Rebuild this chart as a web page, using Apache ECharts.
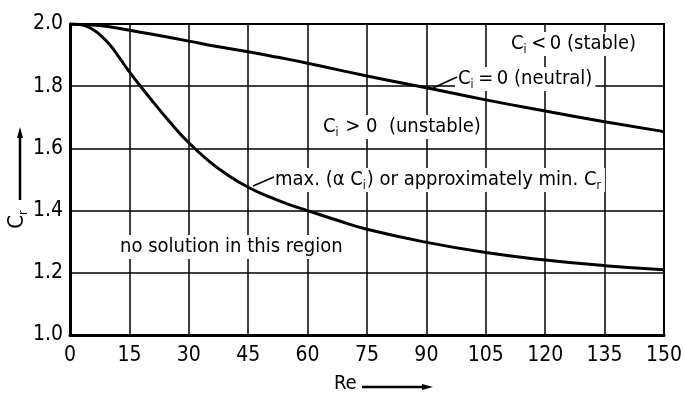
<!DOCTYPE html>
<html>
<head>
<meta charset="utf-8">
<script src="https://cdn.jsdelivr.net/npm/echarts@6/dist/echarts.min.js"></script>
<style>
  html, body { margin: 0; padding: 0; background: #fff; }
  #chart { width: 685px; height: 394px; }
</style>
</head>
<body>
<div id="chart"></div>
<script>
// Neutral stability curve (c_i = 0): Reynolds number and c_r
var neutralRe = [0, 7.5, 15, 22.5, 30, 37.5, 45, 52.5, 60, 75, 90, 105, 120, 135, 150];
var neutralCr = [2.0, 1.995, 1.980, 1.963, 1.945, 1.927, 1.911, 1.893, 1.874, 1.833, 1.795, 1.756, 1.720, 1.686, 1.654];
// Curve of maximum amplification (approximately minimum c_r)
var maxAmpRe = [0, 2.5, 5, 7.5, 10, 12.5, 15, 20, 25, 30, 35, 40, 45, 50, 55, 60, 67.5, 75, 90, 105, 120, 135, 150];
var maxAmpCr = [2.0, 1.998, 1.988, 1.966, 1.934, 1.891, 1.846, 1.765, 1.688, 1.618, 1.560, 1.513, 1.475, 1.446, 1.421, 1.400, 1.369, 1.340, 1.298, 1.265, 1.241, 1.223, 1.210];
// Axis ticks
var xTicks = [0, 15, 30, 45, 60, 75, 90, 105, 120, 135, 150];
var yTicks = ['1.0', '1.2', '1.4', '1.6', '1.8', '2.0'];

var FONT = '"DejaVu Sans Condensed", "Liberation Sans Narrow", sans-serif';

function pairs(xs, ys) {
  return xs.map(function (x, i) { return [x, ys[i]]; });
}

var subRich = {
  t: { fontFamily: FONT, fontSize: 20, color: '#000', lineHeight: 24, verticalAlign: 'middle' },
  s: { fontFamily: FONT, fontSize: 12, color: '#000', lineHeight: 12, verticalAlign: 'bottom', padding: [0, 1, 0, 0] }
};
var bigRich = {
  t: { fontFamily: FONT, fontSize: 22, color: '#000', lineHeight: 26, verticalAlign: 'middle' },
  s: { fontFamily: FONT, fontSize: 13, color: '#000', lineHeight: 13, verticalAlign: 'bottom', padding: [0, 1, 0, 0] }
};

function label(text, x, y) {
  return {
    type: 'text', x: x, y: y, z: 100,
    style: {
      text: text, rich: subRich, fontFamily: FONT, fontSize: 20, fill: '#000',
      backgroundColor: '#fff', padding: [0, 3, 0, 3],
      textVerticalAlign: 'middle'
    }
  };
}

function arrow(x1, y1, x2, y2) {
  var dx = x2 - x1, dy = y2 - y1, len = Math.sqrt(dx * dx + dy * dy);
  var ux = dx / len, uy = dy / len, L = 11, W = 3;
  var bx = x2 - ux * L, by = y2 - uy * L;
  return [
    { type: 'line', z: 100, shape: { x1: x1, y1: y1, x2: bx, y2: by }, style: { stroke: '#000', lineWidth: 2.5 } },
    { type: 'polygon', z: 100, shape: { points: [[x2, y2], [bx - uy * W, by + ux * W], [bx + uy * W, by - ux * W]] }, style: { fill: '#000' } }
  ];
}

var chart = echarts.init(document.getElementById('chart'), null, { renderer: 'canvas' });

var lineStyle = { color: '#000', width: 3 };

var option = {
  animation: false,
  backgroundColor: '#fff',
  grid: { left: 70, right: 17, top: 24, bottom: 59, show: true, borderColor: '#000', borderWidth: 2, backgroundColor: 'transparent' },
  xAxis: {
    type: 'value', min: 0, max: 150, interval: 15,
    axisLine: { show: true, lineStyle: { color: '#000', width: 3 } },
    axisTick: { show: false },
    axisLabel: { color: '#000', fontFamily: FONT, fontSize: 21, margin: 10,
      formatter: function (v) { return xTicks.indexOf(v) >= 0 ? String(v) : ''; } },
    splitLine: { show: true, lineStyle: { color: '#000', width: 1.5 } }
  },
  yAxis: {
    type: 'value', min: 1.0, max: 2.0, interval: 0.2,
    axisLine: { show: true, lineStyle: { color: '#000', width: 3 } },
    axisTick: { show: false },
    axisLabel: { color: '#000', fontFamily: FONT, fontSize: 21, margin: 7,
      formatter: function (v) { return yTicks[Math.round((v - 1.0) / 0.2)]; } },
    splitLine: { show: true, lineStyle: { color: '#000', width: 1.5 } }
  },
  series: [
    { type: 'line', name: 'neutral', data: pairs(neutralRe, neutralCr), smooth: 0.5, showSymbol: false, lineStyle: lineStyle, z: 5 },
    { type: 'line', name: 'max', data: pairs(maxAmpRe, maxAmpCr), smooth: 0.5, showSymbol: false, lineStyle: lineStyle, z: 5 }
  ],
  graphic: [
    label('{t|C}{s|i}{t|\u2009<\u20090 (stable)}', 508, 44),
    label('{t|C}{s|i}{t|\u2009=\u20090 (neutral)}', 455, 79),
    label('{t|C}{s|i}{t| > 0  (unstable)}', 320, 127),
    label('{t|max. (α C}{s|i}{t|) or approximately min. C}{s|r}', 272, 180),
    label('{t|no solution in this region}', 117, 247),
    { type: 'line', z: 100, shape: { x1: 433, y1: 88, x2: 457, y2: 77 }, style: { stroke: '#000', lineWidth: 1.5 } },
    { type: 'line', z: 100, shape: { x1: 253, y1: 186, x2: 274, y2: 177 }, style: { stroke: '#000', lineWidth: 1.5 } },
    {
      type: 'text', x: 17, y: 219, rotation: Math.PI / 2, z: 100,
      style: { text: '{t|C}{s|r}', rich: bigRich, textAlign: 'center', textVerticalAlign: 'middle' }
    },
    {
      type: 'text', x: 334, y: 384, z: 100,
      style: { text: 'Re', fontFamily: FONT, fontSize: 20, fill: '#000', textVerticalAlign: 'middle' }
    }
  ].concat(arrow(20, 200, 20, 127)).concat(arrow(362, 387, 433, 387))
};

chart.setOption(option);
</script>
</body>
</html>
